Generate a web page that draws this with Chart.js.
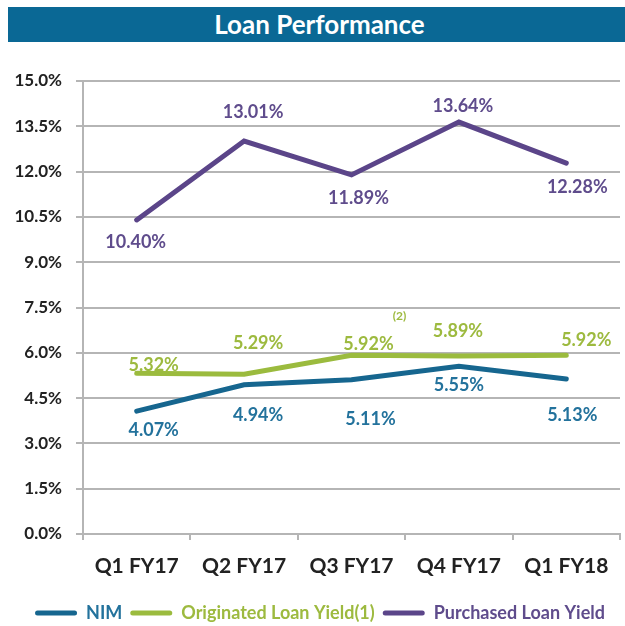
<!DOCTYPE html>
<html>
<head>
<meta charset="utf-8">
<script src="https://cdn.jsdelivr.net/npm/chart.js@4/dist/chart.umd.min.js"></script>
<style>
  html, body { margin: 0; padding: 0; background: #ffffff; }
  #wrap { position: relative; width: 625px; height: 626px; overflow: hidden; }
  #c { position: absolute; left: 0; top: 0; }
  #title {
    position: absolute; left: 8px; top: 7px; width: 617px; height: 35px;
    background: #0a6895; color: #ffffff; font: bold 26px Lato, sans-serif;
    line-height: 35px; text-align: center; padding-left: 6px; box-sizing: border-box;
  }
</style>
</head>
<body>
<div id="wrap">
  <canvas id="c" width="625" height="634"></canvas>
  <div id="title">Loan Performance</div>
</div>
<script>
// ---- data ----
const categories = ['Q1 FY17', 'Q2 FY17', 'Q3 FY17', 'Q4 FY17', 'Q1 FY18'];
const nimValues = [4.07, 4.94, 5.11, 5.55, 5.13];
const originatedValues = [5.32, 5.29, 5.92, 5.89, 5.92];
const purchasedValues = [10.40, 13.01, 11.89, 13.64, 12.28];
const seriesNames = ['NIM', 'Originated Loan Yield(1)', 'Purchased Loan Yield'];
const yMin = 0, yMax = 15, yStep = 1.5;

// ---- styling (not data) ----
const lineColors = ['#16668f', '#9bbb3e', '#5b4589'];
const labelColors = ['#23729c', '#9dba3f', '#5f4c8c'];
// label centre offsets relative to each point [dx, dy]
const labelOffsets = [
  [[17, 19], [14, 30], [19, 40], [0, 19], [6, 36]],
  [[17, -8], [14, -31], [17, -11], [-1, -25], [20, -15]],
  [[-1, 22], [9, -29], [7, 23], [4, -16], [11, 24]]
];
const footnote = { dataset: 1, index: 2, text: '(2)', dx: 48, dy: -39 };
const legendShiftX = 10;

const FONT = 'Lato, "Open Sans", sans-serif';

const labelPlugin = {
  id: 'pointLabels',
  afterLayout(chart) {
    if (chart.legend) {
      chart.legend.left += legendShiftX;
      chart.legend.right += legendShiftX;
    }
  },
  afterDatasetsDraw(chart) {
    const ctx = chart.ctx;
    ctx.save();
    ctx.textAlign = 'center';
    ctx.textBaseline = 'middle';
    chart.data.datasets.forEach((ds, di) => {
      const meta = chart.getDatasetMeta(di);
      ctx.font = 'bold 18px ' + FONT;
      ctx.fillStyle = labelColors[di];
      meta.data.forEach((pt, i) => {
        const off = labelOffsets[di][i];
        ctx.fillText(ds.data[i].toFixed(2) + '%', pt.x + off[0], pt.y + off[1]);
      });
    });
    const fm = chart.getDatasetMeta(footnote.dataset).data[footnote.index];
    ctx.font = 'bold 12px ' + FONT;
    ctx.fillStyle = labelColors[footnote.dataset];
    ctx.fillText(footnote.text, fm.x + footnote.dx, fm.y + footnote.dy);
    ctx.restore();
  }
};

const datasets = [nimValues, originatedValues, purchasedValues].map((vals, i) => ({
  label: seriesNames[i],
  data: vals,
  borderColor: lineColors[i],
  backgroundColor: lineColors[i],
  borderWidth: 5,
  borderCapStyle: 'round',
  pointRadius: 0,
  pointHoverRadius: 0,
  tension: 0,
  fill: false
}));

new Chart(document.getElementById('c'), {
  type: 'line',
  data: { labels: categories, datasets: datasets },
  plugins: [labelPlugin],
  options: {
    responsive: false,
    animation: false,
    events: [],
    layout: { padding: { top: 81, right: 5, left: 0, bottom: 2 } },
    plugins: {
      tooltip: { enabled: false },
      title: { display: false },
      legend: {
        position: 'bottom',
        labels: {
          boxWidth: 42,
          boxHeight: 5,
          padding: 8,
          font: { family: FONT, size: 18, weight: 'bold' },
          generateLabels(chart) {
            return chart.data.datasets.map((ds, i) => ({
              text: ds.label,
              fillStyle: lineColors[i],
              strokeStyle: lineColors[i],
              lineWidth: 0,
              fontColor: labelColors[i],
              borderRadius: 2.5,
              hidden: false,
              datasetIndex: i
            }));
          },
          useBorderRadius: true,
          borderRadius: 2.5
        }
      }
    },
    scales: {
      x: {
        offset: true,
        grid: { offset: true, drawOnChartArea: false, drawTicks: true, tickLength: 6, color: '#b5b5b5', lineWidth: 2 },
        border: { color: '#b5b5b5', width: 2 },
        ticks: { padding: 14, color: '#222222', font: { family: FONT, size: 21, weight: 'bold' }, maxRotation: 0 },
        afterFit(s) { s.height = 62; }
      },
      y: {
        min: yMin,
        max: yMax,
        ticks: {
          stepSize: yStep,
          padding: 14,
          color: '#222222',
          font: { family: FONT, size: 17, weight: 'bold' },
          callback: v => v.toFixed(1) + '%'
        },
        grid: { color: '#b5b5b5', lineWidth: 2, tickLength: 7 },
        border: { color: '#b5b5b5', width: 2 },
        afterFit(s) { s.width = 83; }
      }
    }
  }
});
</script>
</body>
</html>
